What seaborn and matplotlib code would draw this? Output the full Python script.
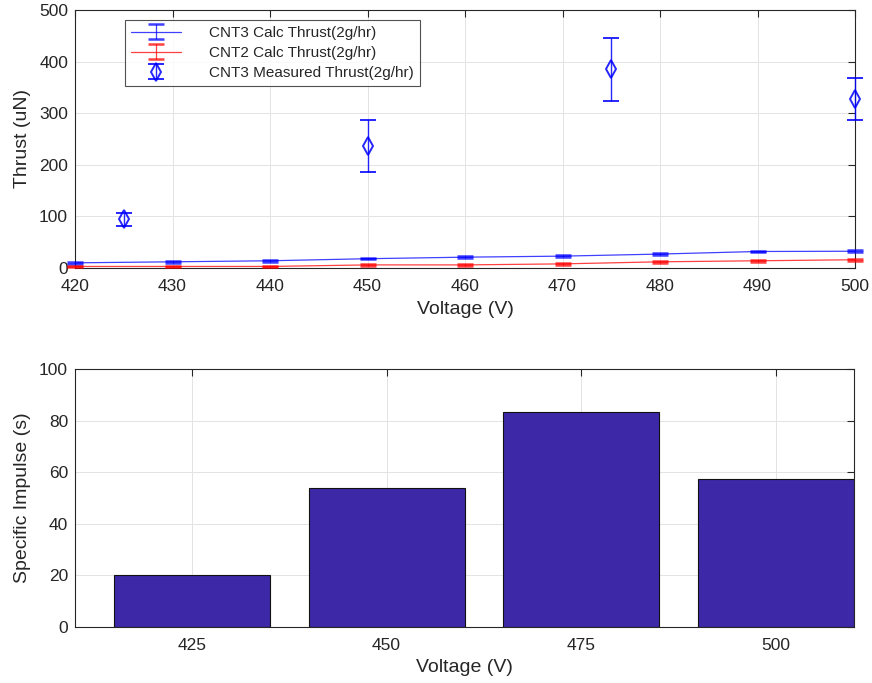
import matplotlib
matplotlib.use("Agg")
import matplotlib.pyplot as plt
import seaborn as sns
import pandas as pd

# ---- data ----
voltage_calc = [420, 430, 440, 450, 460, 470, 480, 490, 500]
cnt3_calc = [10, 12, 14, 18, 21, 23, 27, 32, 32.5]
cnt3_calc_err = [1.5, 1.5, 1.5, 1.5, 2, 1.5, 1.5, 1.5, 1.5]
cnt2_calc = [3, 3, 3, 6, 6, 8, 12, 14, 16]
cnt2_calc_err = [1.5, 1.5, 1.5, 1.5, 1.5, 2.5, 1.5, 1.5, 1.5]

voltage_meas = [425, 450, 475, 500]
cnt3_meas = [94, 237, 385, 327]
cnt3_meas_err = [12, 50, 61, 41]

isp_voltage = [425, 450, 475, 500]
isp_values = [20, 53.7, 83.5, 57.2]

sns.set_theme(style="white")
plt.rcParams['font.family'] = ['Liberation Sans', 'DejaVu Sans']
TXT = '#262626'
plt.rcParams['text.color'] = TXT
plt.rcParams['axes.labelcolor'] = TXT
plt.rcParams['xtick.color'] = TXT
plt.rcParams['ytick.color'] = TXT

fig = plt.figure(figsize=(8.72, 6.83), dpi=100)
ax1 = fig.add_axes([75/872, 1-268/683, 780/872, 258/683])
ax2 = fig.add_axes([75/872, 1-627/683, 779/872, 258/683])

def style(ax):
    for s in ax.spines.values():
        s.set_color('#262626')
        s.set_linewidth(0.8)
        s.set_visible(True)
    ax.grid(True, color='#E3E3E3', linewidth=0.7)
    ax.set_axisbelow(True)
    ax.tick_params(direction='in', length=5, width=0.8, top=True, right=True,
                   labelsize=12.5, colors='#262626', labelcolor=TXT)
    ax.tick_params(axis='x', pad=8)
    ax.tick_params(axis='y', pad=5)

# ---- top panel ----
ax1.errorbar(voltage_calc, cnt3_calc, yerr=cnt3_calc_err, color='#0000FF', lw=0.9,
             capsize=6, capthick=1.8, elinewidth=0.9, alpha=0.75,
             label='CNT3 Calc Thrust(2g/hr)', clip_on=False, zorder=3)
ax1.errorbar(voltage_calc, cnt2_calc, yerr=cnt2_calc_err, color='#FF0000', lw=0.9,
             capsize=6, capthick=1.8, elinewidth=0.9, alpha=0.75,
             label='CNT2 Calc Thrust(2g/hr)', clip_on=False, zorder=3)
ax1.errorbar(voltage_meas, cnt3_meas, yerr=cnt3_meas_err, color='#0000FF', ls='none',
             marker='d', markersize=9, markerfacecolor='none', markeredgewidth=1.4,
             capsize=6, capthick=1.6, elinewidth=1.0, alpha=0.85,
             label='CNT3 Measured Thrust(2g/hr)', clip_on=False, zorder=4)
ax1.set_xlim(420, 500)
ax1.set_ylim(0, 500)
ax1.set_xticks(range(420, 501, 10))
ax1.set_yticks(range(0, 501, 100))
style(ax1)
ax1.set_xlabel('Voltage (V)', fontsize=14, labelpad=5)
ax1.set_ylabel('Thrust (uN)', fontsize=14, labelpad=6)
leg = ax1.legend(loc='upper left', bbox_to_anchor=(0.064, 0.962), fontsize=11,
                 frameon=True, fancybox=False, edgecolor='#262626',
                 borderpad=0.4, labelspacing=0.4, handlelength=3.3, handletextpad=1.8,
                 borderaxespad=0)
leg.get_frame().set_linewidth(0.8)

# ---- bottom panel ----
df = pd.DataFrame({'Voltage': isp_voltage, 'Isp': isp_values})
sns.barplot(data=df, x='Voltage', y='Isp', native_scale=True, width=0.8,
            color='#3D28A8', saturation=1, edgecolor='#111111', linewidth=0.8,
            ax=ax2, zorder=2)
ax2.set_xlim(410, 510)
ax2.set_ylim(0, 100)
ax2.set_xticks(isp_voltage)
ax2.set_xticklabels([str(v) for v in isp_voltage])
ax2.set_yticks(range(0, 101, 20))
style(ax2)
ax2.set_xlabel('Voltage (V)', fontsize=14, labelpad=4)
ax2.set_ylabel('Specific Impulse (s)', fontsize=14, labelpad=6)

fig.savefig('out.png', dpi=100)
